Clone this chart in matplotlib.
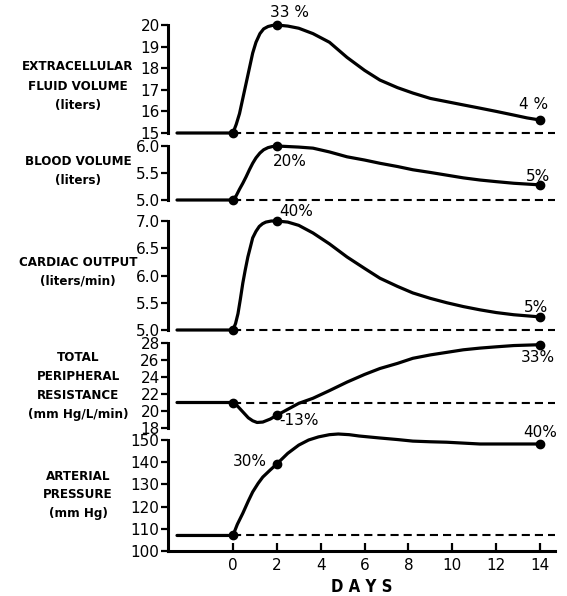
import matplotlib
matplotlib.use("Agg")
import matplotlib.pyplot as plt
import numpy as np

plt.rcParams['font.family'] = ['DejaVu Sans']

# ---- data (day, value) ----
days_ecf = [-2.55, 0, 0.15, 0.3, 0.45, 0.6, 0.75, 0.9, 1.05, 1.23, 1.4, 1.6, 1.8, 2,
            2.5, 3, 3.65, 4.4, 4.8, 5.2, 6, 6.7, 7.5, 8.2, 9, 9.75, 10.5, 11.26, 12, 12.8, 13.4, 14]
ecf = [15, 15, 15.4, 15.9, 16.6, 17.3, 18.0, 18.7, 19.2, 19.6, 19.82, 19.93, 19.98, 20,
       19.95, 19.85, 19.6, 19.2, 18.85, 18.5, 17.9, 17.45, 17.1, 16.85, 16.6, 16.45, 16.3, 16.15, 16.0, 15.83, 15.7, 15.6]

days_bv = [-2.55, 0, 0.15, 0.3, 0.45, 0.6, 0.75, 0.9, 1.05, 1.23, 1.4, 1.6, 1.8, 2,
           2.5, 3, 3.65, 4.4, 5.2, 6, 6.7, 7.5, 8.2, 9, 9.75, 10.5, 11.26, 12, 12.8, 14]
bv = [5, 5, 5.08, 5.2, 5.31, 5.43, 5.56, 5.68, 5.78, 5.87, 5.93, 5.97, 5.99, 6.0,
      5.99, 5.98, 5.96, 5.89, 5.8, 5.74, 5.68, 5.62, 5.56, 5.51, 5.46, 5.41, 5.37, 5.34, 5.31, 5.28]

days_co = [-2.55, 0, 0.12, 0.23, 0.34, 0.45, 0.56, 0.68, 0.8, 0.9, 1.05, 1.2, 1.35, 1.5, 1.75, 2,
           2.5, 3, 3.65, 4.4, 5.2, 6, 6.7, 7.5, 8.2, 9, 9.75, 10.5, 11.26, 12, 12.8, 14]
co = [5, 5, 5.12, 5.3, 5.57, 5.86, 6.1, 6.34, 6.53, 6.69, 6.81, 6.9, 6.95, 6.98, 7.0, 7.0,
      6.98, 6.92, 6.78, 6.58, 6.34, 6.13, 5.95, 5.8, 5.68, 5.58, 5.5, 5.43, 5.37, 5.32, 5.28, 5.24]

days_tpr = [-2.55, 0, 0.2, 0.45, 0.7, 0.9, 1.1, 1.36, 1.7, 2, 2.5, 3, 3.65, 4.4, 5.2, 6, 6.7,
            7.5, 8.2, 9, 9.75, 10.5, 11.26, 12, 12.8, 14]
tpr = [21, 21, 20.6, 19.9, 19.2, 18.85, 18.65, 18.7, 19.05, 19.5, 20.2, 20.9, 21.5, 22.4, 23.4, 24.3, 25.0,
       25.6, 26.2, 26.6, 26.9, 27.2, 27.4, 27.55, 27.7, 27.8]

days_ap = [-2.55, 0, 0.2, 0.45, 0.7, 0.9, 1.15, 1.36, 1.7, 2, 2.5, 3, 3.45, 3.9, 4.4, 4.8, 5.3, 5.75,
           6.7, 7.5, 8.2, 9, 9.75, 10.5, 11.26, 12, 12.8, 14]
ap = [107, 107, 112, 117, 122.5, 126.6, 130.5, 133.3, 136.5, 139.2, 144, 147.7, 150, 151.4, 152.4, 152.7, 152.4, 151.8,
      150.9, 150.2, 149.5, 149.2, 149, 148.6, 148.2, 148.2, 148.2, 148.2]

panels = [
    dict(label="EXTRACELLULAR\nFLUID VOLUME\n(liters)", x=days_ecf, y=ecf, base=15,
         ylim=(15, 20), ticks=[15, 16, 17, 18, 19, 20], fmt="{:.0f}", px=(25, 133), ly=86,
         notes=[("33 %", 2.6, 20.6, 'center'), ("4 %", 13.7, 16.3, 'center')]),
    dict(label="BLOOD VOLUME\n(liters)", x=days_bv, y=bv, base=5.0,
         ylim=(5, 6), ticks=[5.0, 5.5, 6.0], fmt="{:.1f}", px=(146, 200), ly=171,
         notes=[("20%", 2.6, 5.72, 'center'), ("5%", 13.9, 5.44, 'center')]),
    dict(label="CARDIAC OUTPUT\n(liters/min)", x=days_co, y=co, base=5.0,
         ylim=(5, 7), ticks=[5.0, 5.5, 6.0, 6.5, 7.0], fmt="{:.1f}", px=(221, 330), ly=272,
         notes=[("40%", 2.9, 7.18, 'center'), ("5%", 13.8, 5.42, 'center')]),
    dict(label="TOTAL\nPERIPHERAL\nRESISTANCE\n(mm Hg/L/min)", x=days_tpr, y=tpr, base=21,
         ylim=(18, 28), ticks=[18, 20, 22, 24, 26, 28], fmt="{:.0f}", px=(343, 428), ly=386,
         notes=[("-13%", 2.1, 18.9, 'left'), ("33%", 13.9, 26.35, 'center')]),
    dict(label="ARTERIAL\nPRESSURE\n(mm Hg)", x=days_ap, y=ap, base=107,
         ylim=(100, 150), ticks=[100, 110, 120, 130, 140, 150], fmt="{:.0f}", px=(440, 551), ly=495,
         notes=[("30%", 1.55, 140.5, 'right'), ("40%", 14.0, 153.5, 'center')]),
]

W, H = 567, 596
fig = plt.figure(figsize=(W / 100, H / 100), dpi=100)
x0, x1 = 168, 555

for i, p in enumerate(panels):
    top, bot = p['px']
    ax = fig.add_axes([x0 / W, 1 - bot / H, (x1 - x0) / W, (bot - top) / H])
    ax.set_xlim(-2.96, 14.68)
    ax.set_ylim(*p['ylim'])
    for s in ['top', 'right']:
        ax.spines[s].set_visible(False)
    ax.spines['left'].set_linewidth(2.2)
    ax.set_yticks(p['ticks'])
    ax.set_yticklabels([p['fmt'].format(t) for t in p['ticks']], fontsize=11)
    ax.tick_params(axis='y', direction='out', length=5, width=1.6, pad=1)
    ax.patch.set_alpha(0)

    # dashed control level
    ax.plot([0, 14.68], [p['base'], p['base']], color='black', lw=1.5,
            dashes=(3.9, 2.4), clip_on=False)
    # response curve
    ax.plot(p['x'], p['y'], color='black', lw=2.3, solid_joinstyle='round',
            solid_capstyle='round', clip_on=False)
    mx = [0, 2, 14]
    my = [np.interp(m, p['x'], p['y']) for m in mx]
    ax.plot(mx, my, 'o', color='black', ms=6, clip_on=False)

    for txt, tx, ty, ha in p['notes']:
        ax.text(tx, ty, txt, ha=ha, va='center', fontsize=11, clip_on=False)

    fig.text(78 / W, 1 - p['ly'] / H, p['label'], ha='center', va='center',
             fontsize=9.5, fontweight='bold', fontstretch='condensed', linespacing=1.6)

    if i < len(panels) - 1:
        ax.spines['bottom'].set_visible(False)
        ax.set_xticks([])
    else:
        ax.spines['bottom'].set_linewidth(2.2)
        ax.set_xticks([0, 2, 4, 6, 8, 10, 12, 14])
        ax.tick_params(axis='x', direction='in', length=6, width=1.6, labelsize=11, pad=5)
        ax.set_xlabel("D A Y S", fontsize=12, fontweight='bold', fontstretch='condensed', labelpad=4)

fig.savefig('out.png', dpi=100, facecolor='white')
